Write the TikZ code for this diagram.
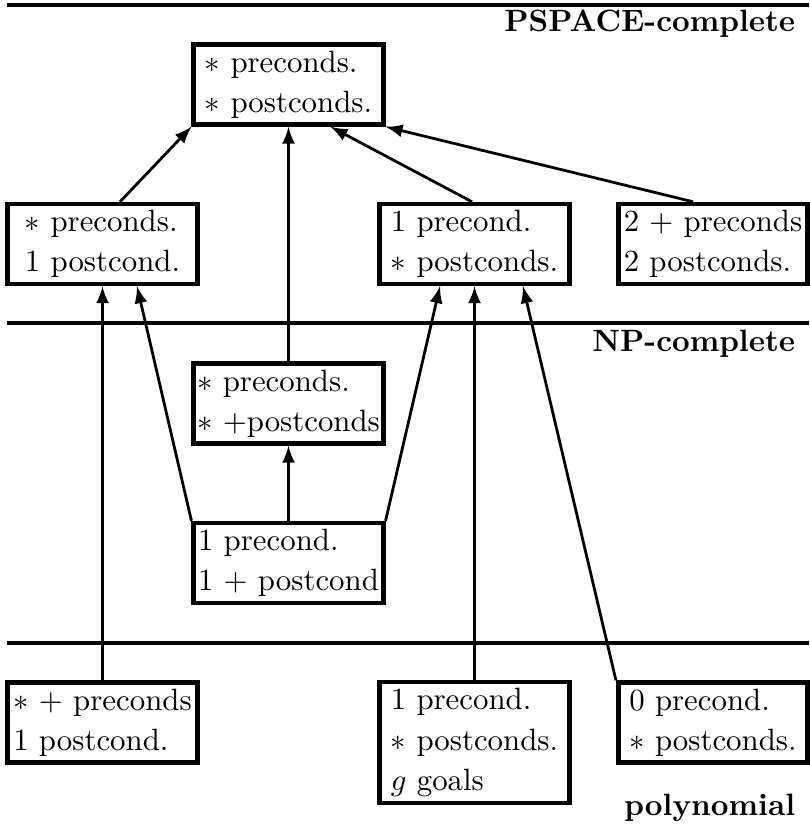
\documentclass[tikz,border=0pt]{standalone}
\usetikzlibrary{calc}
\begin{document}
\begin{tikzpicture}[>=latex, x=0.0114cm, y=-0.0114cm,
  cls/.style={draw, line width=1.5pt, inner xsep=1pt, inner ysep=0pt,
    minimum width=2.16cm, minimum height=0.91cm, align=left,
    font=\fontsize{10}{13}\selectfont},
  lvl/.style={anchor=base east, font=\bfseries},
  sep/.style={line width=1.1pt},
  link/.style={->, line width=0.9pt}]

\useasboundingbox (0,0) rectangle (809,839);

% complexity levels
\draw[sep] (7,5) -- (809,5);
\draw[sep] (7,323) -- (809,323);
\draw[sep] (7,643) -- (809,643);
\node[lvl] (pspace) at (806,32) {PSPACE-complete};
\node[lvl] (np) at (806,351) {NP-complete};
\node[lvl] (poly) at (806,815) {polynomial};

% PSPACE-complete
\node[cls] (top) at (288.5,84.5) {$\ast$ preconds.\\$\ast$ postconds.};
\node[cls] (pre1) at (102.5,244) {$\ast$ preconds.\\1 postcond.};
\node[cls] (post1) at (474.5,244) {1 precond.\\$\ast$ postconds.};
\node[cls] (two) at (713,244) {2 $+$ preconds\\2 postconds.};

% NP-complete
\node[cls] (np1) at (288.5,403.5) {$\ast$ preconds.\\$\ast$ $+$postconds};
\node[cls] (np2) at (288.5,563) {1 precond.\\1 $+$ postcond};

% polynomial
\node[cls] (p1) at (102.5,722.5) {$\ast$ $+$ preconds\\1 postcond.};
\node[cls, minimum height=1.38cm] (p2) at (474.5,742.5) {1 precond.\\$\ast$ postconds.\\$g$ goals};
\node[cls] (p3) at (713,722.5) {0 precond.\\$\ast$ postconds.};

\draw[link] ($(pre1.north)+(17.5,0)$) -- (top.south west);
\draw[link] (np1.north) -- (top.south);
\draw[link] ($(post1.north)+(-2.5,0)$) -- ($(top.south)+(42,0)$);
\draw[link] ($(two.north)+(-20,0)$) -- (top.south east);

\draw[link] (np2.north) -- (np1.south);
\draw[link] (np2.north west) -- ($(pre1.south)+(34.5,0)$);
\draw[link] (np2.north east) -- ($(post1.south)+(-34.5,0)$);

\draw[link] (p1.north) -- (pre1.south);
\draw[link] (p2.north) -- (post1.south);
\draw[link] (p3.north west) -- ($(post1.south)+(48.5,0)$);

\end{tikzpicture}
\end{document}
